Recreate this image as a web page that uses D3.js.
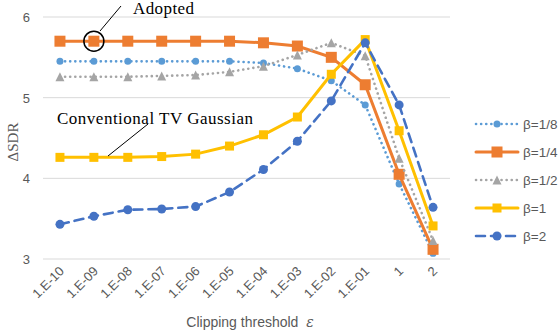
<!DOCTYPE html>
<html>
<head>
<meta charset="utf-8">
<script src="https://cdn.jsdelivr.net/npm/d3@7"></script>
<style>
  body { margin: 0; background: #fff; }
  text { font-family: "Liberation Sans", Arial, sans-serif; }
</style>
</head>
<body>
<svg id="chart" width="560" height="336"></svg>
<script>
"use strict";

const categories = ['1.E-10', '1.E-09', '1.E-08', '1.E-07', '1.E-06', '1.E-05',
                    '1.E-04', '1.E-03', '1.E-02', '1.E-01', '1', '2'];
const yTicks = [3, 4, 5, 6];

const beta8 = [5.45, 5.45, 5.45, 5.45, 5.45, 5.45, 5.43, 5.36, 5.21, 4.91, 3.93, 3.07];
const beta4 = [5.70, 5.70, 5.70, 5.70, 5.70, 5.70, 5.68, 5.64, 5.50, 5.16, 4.05, 3.12];
const beta2 = [5.26, 5.26, 5.26, 5.27, 5.28, 5.32, 5.39, 5.53, 5.68, 5.52, 4.25, 3.23];
const beta1 = [4.26, 4.26, 4.26, 4.27, 4.30, 4.40, 4.54, 4.76, 5.29, 5.72, 4.59, 3.41];
const betaTwo = [3.43, 3.53, 3.61, 3.62, 3.65, 3.83, 4.11, 4.46, 4.96, 5.68, 4.91, 3.64];

const series = [
  {name: 'β=1/8', values: beta8,   color: '#5B9BD5', dash: '0.1 5', width: 2.6, marker: 'circle', size: 7},
  {name: 'β=1/4', values: beta4,   color: '#ED7D31', dash: null,    width: 3,   marker: 'square', size: 11},
  {name: 'β=1/2', values: beta2,   color: '#A5A5A5', dash: '0.1 5', width: 2.6, marker: 'triangle', size: 9},
  {name: 'β=1',   values: beta1,   color: '#FFC000', dash: null,    width: 3,   marker: 'square', size: 9},
  {name: 'β=2',   values: betaTwo, color: '#4472C4', dash: '9 6',   width: 2.6, marker: 'circle', size: 9}
];

const svg = d3.select('#chart');
const plotLeft = 43, plotRight = 450, plotTop = 17, plotBottom = 259;

const x = d3.scaleBand().domain(categories).range([plotLeft, plotRight]);
const y = d3.scaleLinear().domain([3, 6]).range([plotBottom, plotTop]);
const cx = function(d){ return x(d) + x.bandwidth() / 2; };

// gridlines
svg.append('g')
   .selectAll('line')
   .data(yTicks)
   .enter()
   .append('line')
   .attr('x1', plotLeft).attr('x2', plotRight)
   .attr('y1', d => y(d)).attr('y2', d => y(d))
   .attr('stroke', '#D9D9D9')
   .attr('stroke-width', 1);

// y tick labels
svg.append('g')
   .selectAll('text')
   .data(yTicks)
   .enter()
   .append('text')
   .attr('x', 30).attr('y', d => y(d) + 5)
   .attr('text-anchor', 'end')
   .attr('fill', '#595959')
   .style('font-size', '13px')
   .text(d => d);

// x tick labels
svg.append('g')
   .selectAll('text')
   .data(categories)
   .enter()
   .append('text')
   .attr('transform', d => 'translate(' + (cx(d) + 5) + ',' + 272 + ') rotate(-45)')
   .attr('text-anchor', 'end')
   .attr('fill', '#595959')
   .style('font-size', '13px')
   .text(d => d);

// axis titles
svg.append('text')
   .attr('x', 250).attr('y', 327)
   .attr('text-anchor', 'middle')
   .attr('fill', '#595959')
   .style('font-size', '14px')
   .html('Clipping threshold&#160;&#160;<tspan font-style="italic" font-family="DejaVu Serif">ε</tspan>');

svg.append('text')
   .attr('transform', 'translate(18,142) rotate(-90)')
   .attr('text-anchor', 'middle')
   .attr('fill', '#595959')
   .style('font-family', '"Liberation Serif", serif')
   .style('font-size', '15px')
   .text('ΔSDR');

const drawMarker = function(g, s, px, py){
  if (s.marker === 'circle'){
    g.append('circle').attr('cx', px).attr('cy', py).attr('r', s.size / 2).attr('fill', s.color);
  } else if (s.marker === 'square'){
    g.append('rect').attr('x', px - s.size / 2).attr('y', py - s.size / 2)
     .attr('width', s.size).attr('height', s.size).attr('fill', s.color);
  } else {
    const h = s.size;
    g.append('path')
     .attr('d', 'M' + px + ',' + (py - h / 2) + 'L' + (px + h / 2) + ',' + (py + h / 2) + 'L' + (px - h / 2) + ',' + (py + h / 2) + 'Z')
     .attr('fill', s.color);
  }
};

const line = d3.line()
               .x((d, i) => cx(categories[i]))
               .y(d => y(d));

series.forEach(function(s){
  const g = svg.append('g');
  g.append('path')
   .attr('d', line(s.values))
   .attr('fill', 'none')
   .attr('stroke', s.color)
   .attr('stroke-width', s.width)
   .attr('stroke-linecap', 'round')
   .attr('stroke-dasharray', s.dash);
  s.values.forEach(function(v, i){
    drawMarker(g, s, cx(categories[i]), y(v));
  });
});

// legend
const legend = svg.append('g');
series.forEach(function(s, i){
  const ly = 124 + i * 28;
  const g = legend.append('g');
  g.append('line')
   .attr('x1', 476).attr('x2', 518)
   .attr('y1', ly).attr('y2', ly)
   .attr('stroke', s.color)
   .attr('stroke-width', s.width)
   .attr('stroke-linecap', 'round')
   .attr('stroke-dasharray', s.dash);
  drawMarker(g, s, 497, ly);
  g.append('text')
   .attr('x', 523).attr('y', ly + 5)
   .attr('fill', '#595959')
   .style('font-size', '13.5px')
   .text(s.name);
});

// annotations
const note = svg.append('g');
note.append('circle')
    .attr('cx', cx(categories[1])).attr('cy', y(beta4[1]))
    .attr('r', 10)
    .attr('fill', 'none')
    .attr('stroke', '#000')
    .attr('stroke-width', 1.5);
note.append('line')
    .attr('x1', 100).attr('y1', 31).attr('x2', 121).attr('y2', 6)
    .attr('stroke', '#000').attr('stroke-width', 1);
note.append('text')
    .attr('x', 133).attr('y', 14)
    .style('font-family', '"Liberation Serif", serif')
    .style('font-size', '17px')
    .style('letter-spacing', '0.4px')
    .text('Adopted');
note.append('line')
    .attr('x1', 148).attr('y1', 124).attr('x2', 108).attr('y2', 156)
    .attr('stroke', '#000').attr('stroke-width', 1);
note.append('text')
    .attr('x', 57).attr('y', 124)
    .style('font-family', '"Liberation Serif", serif')
    .style('font-size', '17px')
    .style('letter-spacing', '0.5px')
    .text('Conventional TV Gaussian');
</script>
</body>
</html>
